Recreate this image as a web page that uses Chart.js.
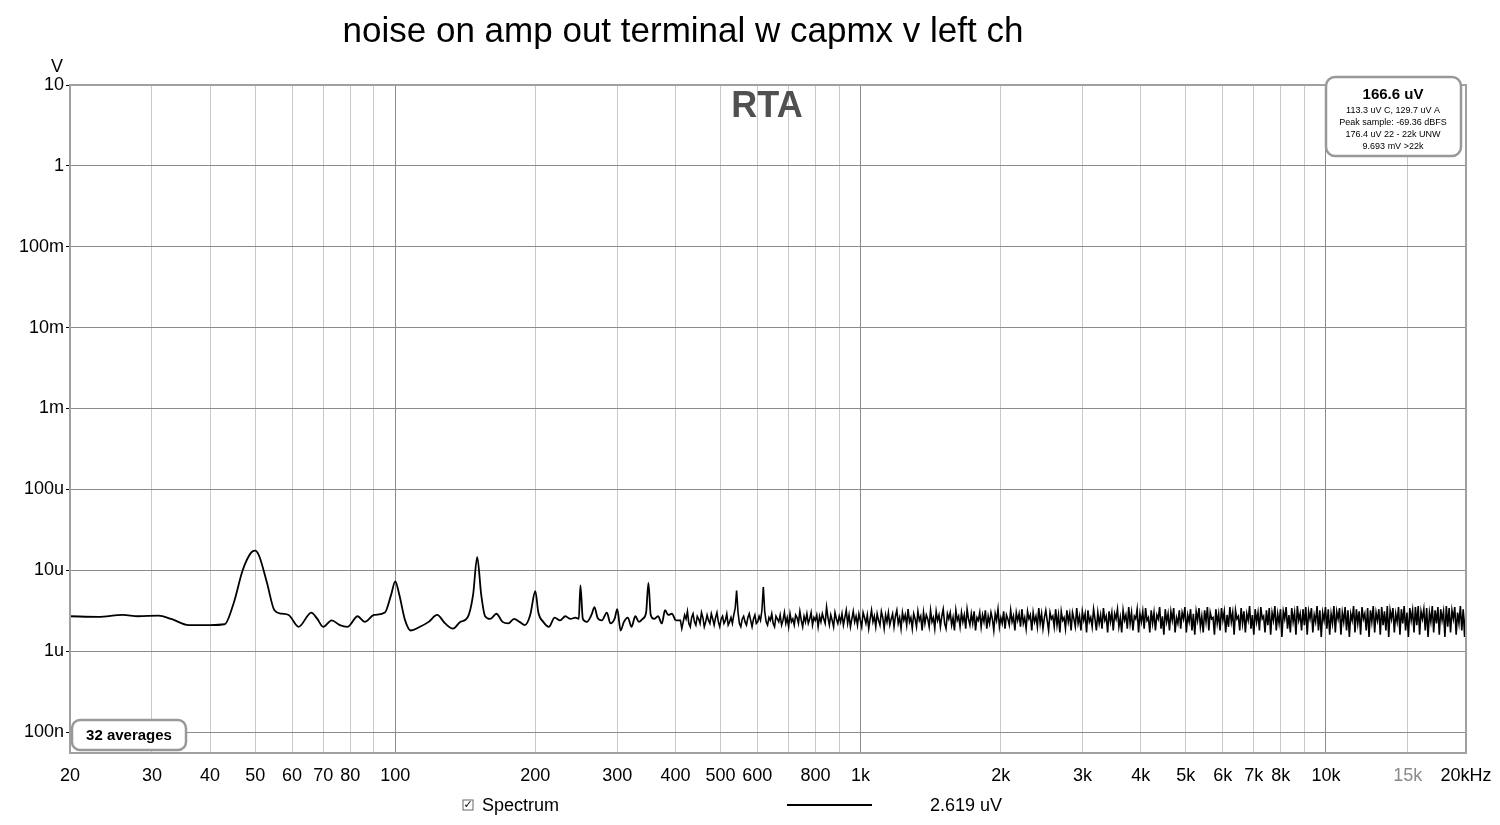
<!DOCTYPE html>
<html><head><meta charset="utf-8">
<script src="https://cdn.jsdelivr.net/npm/chart.js@4/dist/chart.umd.min.js"></script>
<style>html,body{margin:0;padding:0;background:#fff}#c{display:block}</style>
</head><body>
<div style="width:1500px;height:825px"><canvas id="c" width="1500" height="825"></canvas></div>
<script>
// Low-frequency part: frequencies (Hz) and levels (uV)
const lowFreq = [20,23,26,28,31,33,36,40,43,45,47,49,50,51,53,55,57,59,62,66,68,70,73,76,79,83,86,90,95,98,100,102,105,108,113,118,123,128,133,138,143,147,150,153,156,160,165,170,175,180,185,190,195,200,203,208,214,220,226,232,238,244,248,250,253,258,264,268,272,278,285,290,296,300,305,310,316,322,328,334,340,346,350,354,360,367,374,380,386,393,400];
const lowVal  = [2.7,2.65,2.8,2.7,2.75,2.5,2.1,2.1,2.15,4.0,10,16.5,17.5,15,7,3.2,2.9,2.8,2.0,3.0,2.5,2.0,2.4,2.1,2.0,2.7,2.3,2.8,3.0,5.0,7.3,5.0,2.4,1.8,2.0,2.3,2.8,2.2,1.9,2.3,2.6,5.0,14.5,5.0,2.7,2.5,2.9,2.3,2.2,2.5,2.3,2.1,2.8,5.5,3.0,2.3,2.0,2.6,2.4,2.7,2.5,2.6,2.5,6.5,2.5,2.3,2.8,3.5,2.6,2.4,3.0,2.2,2.5,3.3,1.8,2.3,2.6,2.0,2.7,2.3,2.5,3.0,7.0,2.8,2.5,2.7,2.2,3.2,2.8,2.9,2.4];
// High-frequency noise part 410 Hz .. 20 kHz (uV), sampled on a log grid
const highStart = 410, highEnd = 20000;
const highVal = [
2.4,1.9,2.3,2.8,2.5,3.1,2.2,2.0,2.6,2.9,2.3,2.1,2.7,2.5,2.2,3.0,2.6,2.0,2.3,2.8,
2.4,2.2,2.9,2.5,2.1,2.6,3.0,2.3,2.0,2.5,2.7,2.2,2.4,2.9,2.1,2.3,2.6,2.2,2.8,3.4,
5.6,3.0,2.2,2.0,2.5,2.7,2.3,2.1,2.6,2.9,2.4,2.0,2.5,2.8,2.2,2.3,2.7,2.4,3.2,6.2,
3.1,2.3,2.1,2.6,2.4,2.9,2.2,2.0,2.7,2.5,2.3,2.8,2.1,2.4,3.0,2.2,2.6,2.0,2.9,2.3,
2.5,2.1,2.8,2.6,2.2,3.1,2.4,2.0,2.7,2.3,2.9,2.2,2.5,3.0,2.1,2.6,2.4,2.8,2.0,2.7,
2.3,2.9,2.5,2.2,3.5,2.6,2.1,2.8,2.4,2.0,3.0,2.5,2.2,2.7,2.3,2.9,2.1,2.6,3.2,2.2,
2.8,2.0,2.5,3.1,2.3,2.7,2.1,2.9,2.4,2.0,3.0,2.6,2.2,2.8,1.9,2.5,3.2,2.3,2.7,2.0,
2.9,2.4,2.1,3.1,2.6,1.9,2.8,2.3,3.0,2.1,2.5,2.9,2.0,2.7,3.2,2.2,2.6,1.9,3.0,2.4,
2.8,2.1,3.3,2.3,2.6,1.9,2.9,2.5,2.0,3.1,2.4,2.7,1.8,3.0,2.2,2.8,2.5,2.0,3.2,2.3,
2.6,1.9,3.1,2.4,2.8,2.0,2.7,3.3,2.2,1.9,2.9,2.5,3.0,2.1,2.6,1.8,3.2,2.4,2.7,2.0,
3.0,2.3,2.8,1.9,3.3,2.5,2.1,2.9,2.2,3.1,1.8,2.6,2.4,3.0,2.0,2.8,2.3,3.2,1.9,2.7,
2.2,3.0,2.5,1.8,2.9,2.4,3.3,2.0,2.6,2.2,3.1,1.9,2.8,2.5,2.1,3.2,2.3,2.7,1.8,3.0,
2.4,2.9,2.0,3.3,2.2,2.6,1.9,3.1,2.5,2.8,1.8,3.0,2.3,2.7,2.0,3.4,2.2,2.9,1.9,2.6,
3.2,2.4,1.8,3.0,2.5,2.7,2.0,3.3,2.1,2.8,1.7,3.1,2.4,2.6,1.9,3.2,2.3,2.9,1.8,3.0,
2.5,2.0,3.4,2.2,2.7,1.8,3.1,2.4,2.9,1.7,3.2,2.3,2.6,2.0,3.3,2.5,1.8,3.0,2.2,2.8,
1.9,3.4,2.4,2.7,1.7,3.1,2.3,3.0,1.8,2.9,2.5,3.3,2.0,2.6,1.7,3.2,2.4,2.8,1.9,3.5,
2.2,3.0,1.8,2.7,2.5,3.3,1.7,2.9,2.3,3.1,1.9,3.4,2.4,2.6,1.7,3.2,2.2,3.0,1.8,2.8,
2.5,3.5,1.9,2.7,1.6,3.3,2.3,2.9,1.8,3.1,2.4,3.4,1.7,2.6,2.2,3.2,1.9,3.0,2.5,3.5,
1.7,2.8,2.3,3.3,1.8,2.9,1.6,3.1,2.4,3.4,2.0,2.7,1.7,3.2,2.3,3.5,1.8,3.0,2.5,2.6,
1.6,3.3,2.2,2.9,1.8,3.4,2.4,3.1,1.7,2.8,2.0,3.5,2.3,3.0,1.6,3.2,2.5,2.7,1.8,3.4,
2.2,3.1,1.7,2.9,2.4,3.6,1.9,2.8,1.6,3.3,2.3,3.0,1.8,3.5,2.5,2.7,1.7,3.2,2.1,3.4,
1.6,3.0,2.4,3.6,1.8,2.9,2.2,3.3,1.5,3.1,2.5,3.5,1.9,2.8,1.7,3.4,2.3,3.0,1.6,3.6,
2.4,2.9,1.8,3.3,2.1,3.5,1.6,3.1,2.5,3.4,1.7,2.8,2.3,3.6,1.8,3.2,1.5,3.0,2.4,3.5,
1.9,3.3,1.6,2.9,2.2,3.6,1.7,3.1,2.5,3.4,1.6,3.0,2.3,3.5,1.8,3.2,1.5,2.9,2.4,3.6,
1.7,3.3,2.2,3.1,1.6,3.5,2.5,2.9,1.8,3.4,1.5,3.2,2.3,3.6,1.7,3.0,2.4,3.3,1.6,3.5,
2.1,3.1,1.8,3.6,1.5,3.2,2.5,3.4,1.7,2.9,2.3,3.5,1.6,3.3,2.2,3.6,1.8,3.0,1.5,3.4,
2.4,3.2,1.7,3.5,2.1,3.6,1.6,3.1,2.5,3.3,1.8,3.4,1.5,3.0,2.3,3.6,1.7,3.2,2.2,3.5,
1.6,3.3,2.4,3.1,1.5,3.6,2.0,3.4,1.7,3.2,2.5,3.5,1.6,3.0,2.2,3.6,1.8,3.3,1.5,3.4
];
const yTickVals = [10,1,0.1,0.01,1e-3,1e-4,1e-5,1e-6,1e-7];
const yTickLabels = ['10','1','100m','10m','1m','100u','10u','1u','100n'];
const xGrid = [20,30,40,50,60,70,80,90,100,200,300,400,500,600,700,800,900,1000,2000,3000,4000,5000,6000,7000,8000,9000,10000,15000,20000];
const xLabels = {20:'20',30:'30',40:'40',50:'50',60:'60',70:'70',80:'80',100:'100',200:'200',300:'300',400:'400',500:'500',600:'600',800:'800',1000:'1k',2000:'2k',3000:'3k',4000:'4k',5000:'5k',6000:'6k',7000:'7k',8000:'8k',10000:'10k',15000:'15k',20000:'20kHz'};

const lowPts = lowFreq.map((f,i)=>({x:f,y:lowVal[i]*1e-6}));
const highPts = [{x:lowFreq[lowFreq.length-1],y:lowVal[lowVal.length-1]*1e-6}];
const n = highVal.length;
highVal.forEach((v,i)=>{ const f = highStart*Math.pow(highEnd/highStart,i/(n-1)); highPts.push({x:f,y:v*1e-6}); });

function rr(ctx,x,y,w,h,r){ctx.beginPath();ctx.moveTo(x+r,y);ctx.arcTo(x+w,y,x+w,y+h,r);ctx.arcTo(x+w,y+h,x,y+h,r);ctx.arcTo(x,y+h,x,y,r);ctx.arcTo(x,y,x+w,y,r);ctx.closePath();}

const deco = {id:'deco', afterDraw(ch){
  const c=ch.ctx, a=ch.chartArea;
  c.save();
  c.strokeStyle='#a0a0a0'; c.lineWidth=2; c.strokeRect(a.left,a.top,a.right-a.left,a.bottom-a.top);
  c.fillStyle='#000'; c.textAlign='center'; c.textBaseline='middle';
  c.font='35px "Liberation Sans", Arial'; c.fillText('noise on amp out terminal w capmx v left ch',683,32);
  c.font='18px "Liberation Sans", Arial'; c.fillText('V',57,67);
  c.fillStyle='#505050'; c.font='bold 36px "Liberation Sans", Arial'; c.fillText('RTA',767,107);
  c.fillStyle='#fff'; rr(c,1326,77,135,79,9); c.fill(); c.strokeStyle='#999'; c.lineWidth=2.5; c.stroke();
  c.fillStyle='#000'; c.font='bold 15px "Liberation Sans", Arial'; c.fillText('166.6 uV',1393,95);
  c.font='9px "Liberation Sans", Arial';
  c.fillText('113.3 uV C, 129.7 uV A',1393,111); c.fillText('Peak sample: -69.36 dBFS',1393,123);
  c.fillText('176.4 uV 22 - 22k UNW',1393,135); c.fillText('9.693 mV >22k',1393,147);
  c.fillStyle='#fff'; rr(c,72,720,114,30,8); c.fill(); c.strokeStyle='#999'; c.lineWidth=2.5; c.stroke();
  c.fillStyle='#000'; c.font='bold 15px "Liberation Sans", Arial'; c.fillText('32 averages',129,736);
  c.strokeStyle='#666'; c.lineWidth=1; c.strokeRect(463,800,10,10);
  c.font='11px "DejaVu Sans"'; c.fillText('✓',468,805);
  c.textAlign='left'; c.font='18px "Liberation Sans", Arial'; c.fillText('Spectrum',482,806);
  c.strokeStyle='#000'; c.lineWidth=2; c.beginPath(); c.moveTo(787,805); c.lineTo(872,805); c.stroke();
  c.fillText('2.619 uV',930,806);
  c.restore();
}};

new Chart(document.getElementById('c'),{
  type:'scatter',
  data:{datasets:[
    {data:lowPts,showLine:true,borderColor:'#000',borderWidth:1.8,pointRadius:0,cubicInterpolationMode:'monotone'},
    {data:highPts,showLine:true,borderColor:'#000',borderWidth:1.6,pointRadius:0,tension:0}
  ]},
  options:{responsive:false,animation:false,
    layout:{padding:{top:85,right:34,left:0,bottom:0}},
    plugins:{legend:{display:false},tooltip:{enabled:false}},
    scales:{
      x:{type:'logarithmic',min:20,max:20000,
        afterBuildTicks(s){s.ticks=xGrid.map(v=>({value:v}));},
        afterFit(s){s.height=72;s.paddingLeft=0;s.paddingRight=0;},
        grid:{color:(ctx)=>{const v=ctx.tick&&ctx.tick.value;return (v===100||v===1000||v===10000)?'#8a8a8a':'#c8c8c8';},lineWidth:1,drawTicks:false},
        border:{display:false},
        ticks:{autoSkip:false,maxRotation:0,padding:12,color:(ctx)=>ctx.tick&&ctx.tick.value===15000?'#8a8a8a':'#000',font:{size:18,family:'"Liberation Sans", Arial'},callback:(v)=>xLabels[v]||''}},
      y:{type:'logarithmic',min:5.5e-8,max:10,
        afterBuildTicks(s){s.ticks=yTickVals.map(v=>({value:v}));},
        afterFit(s){s.width=70;},
        grid:{color:'#8a8a8a',lineWidth:1,drawTicks:true,tickLength:4,tickColor:'#000'},
        border:{display:false},
        ticks:{padding:2,color:'#000',font:{size:18,family:'"Liberation Sans", Arial'},callback:(v)=>{const i=yTickVals.findIndex(t=>Math.abs(t-v)/t<1e-6);return i>=0?yTickLabels[i]:'';}}}
    }},
  plugins:[deco]
});
</script>
</body></html>
